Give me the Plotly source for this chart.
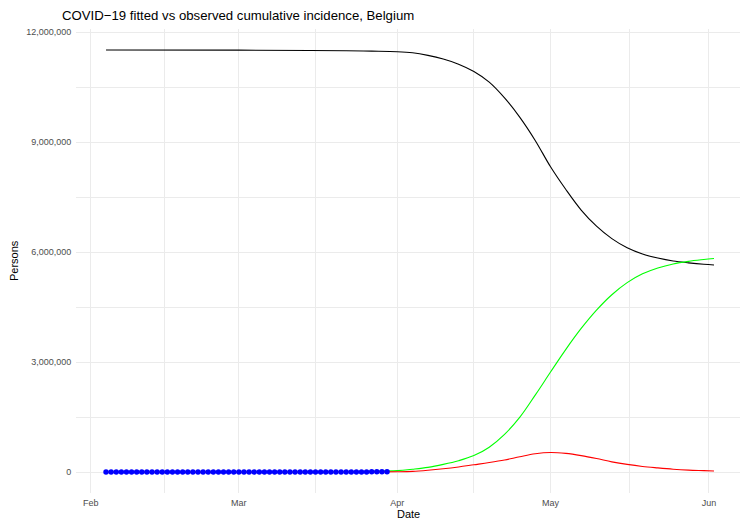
import plotly.graph_objects as go
import pandas as pd

# ---- data ----
fit_dates = ["2020-02-04", "2020-03-01", "2020-03-15", "2020-03-22", "2020-03-27",
             "2020-04-01", "2020-04-04", "2020-04-07", "2020-04-10", "2020-04-13",
             "2020-04-16", "2020-04-19", "2020-04-22", "2020-04-25", "2020-04-28",
             "2020-05-01", "2020-05-04", "2020-05-07", "2020-05-10", "2020-05-13",
             "2020-05-16", "2020-05-19", "2020-05-22", "2020-05-25", "2020-05-28",
             "2020-05-31", "2020-06-02"]
susceptible = [11515000, 11514000, 11505000, 11495000, 11485000,
               11470000, 11440000, 11370000, 11270000, 11130000,
               10930000, 10640000, 10210000, 9680000, 9050000,
               8330000, 7710000, 7150000, 6710000, 6370000,
               6120000, 5950000, 5840000, 5760000, 5710000,
               5670000, 5650000]
infected = [0, 200, 1000, 3000, 6000,
            10000, 20000, 50000, 90000, 140000,
            200000, 260000, 330000, 420000, 500000,
            535000, 510000, 450000, 370000, 280000,
            210000, 155000, 115000, 80000, 55000,
            40000, 30000]
recovered = [0, 200, 3000, 10000, 20000,
             40000, 80000, 130000, 210000, 310000,
             450000, 680000, 1030000, 1500000, 2100000,
             2730000, 3350000, 3920000, 4420000, 4840000,
             5170000, 5410000, 5570000, 5680000, 5750000,
             5800000, 5830000]

obs_start = "2020-02-04"
observed = [1] * 26 + [2, 8, 13, 23, 50, 109, 169, 200, 239, 267, 314, 314, 559, 689,
                       886, 1058, 1243, 1486, 1795, 2257, 2815, 3401, 3743, 4269, 4937,
                       6235, 7284, 9134, 10836, 11899]

x_tick_vals = ["2020-02-01", "2020-03-01", "2020-04-01", "2020-05-01", "2020-06-01"]
x_tick_text = ["Feb", "Mar", "Apr", "May", "Jun"]
x_minor_vals = ["2020-02-15 12:00", "2020-03-16", "2020-04-16", "2020-05-16 12:00"]
y_tick_vals = [0, 3000000, 6000000, 9000000, 12000000]
y_minor_vals = [1500000, 4500000, 7500000, 10500000]

obs_dates = pd.date_range(obs_start, periods=len(observed), freq="D")

FONT = "Liberation Sans, Arial, sans-serif"
GRID = "#ebebeb"

fig = go.Figure()
fig.add_trace(go.Scatter(x=fit_dates, y=susceptible, mode="lines",
                         line=dict(color="black", width=1.1, shape="spline", smoothing=1),
                         showlegend=False, name="Susceptible"))
fig.add_trace(go.Scatter(x=fit_dates, y=recovered, mode="lines",
                         line=dict(color="#00ff00", width=1.1, shape="spline", smoothing=1),
                         showlegend=False, name="Recovered"))
fig.add_trace(go.Scatter(x=fit_dates, y=infected, mode="lines",
                         line=dict(color="#ff0000", width=1.1, shape="spline", smoothing=1),
                         showlegend=False, name="Infected"))
fig.add_trace(go.Scatter(x=obs_dates, y=observed, mode="markers",
                         marker=dict(color="#0000ff", size=5.5, line=dict(width=0)),
                         showlegend=False, name="Observed"))

fig.update_layout(
    width=740, height=520,
    margin=dict(l=76, r=0, t=29, b=27),
    plot_bgcolor="white", paper_bgcolor="white",
    font=dict(family=FONT, size=9, color="#4d4d4d"),
    title=dict(text="COVID\u221219 fitted vs observed cumulative incidence, Belgium",
               xref="container", yref="container", x=62 / 740, xanchor="left",
               y=1 - 15 / 520, yanchor="middle",
               font=dict(family=FONT, size=13.2, color="black")),
    xaxis=dict(range=["2020-01-29 03:00", "2020-06-07 02:00"],
               tickmode="array", tickvals=x_tick_vals, ticktext=x_tick_text,
               showgrid=True, gridcolor=GRID, gridwidth=1,
               minor=dict(tickmode="array", tickvals=x_minor_vals, showgrid=True,
                          gridcolor=GRID, gridwidth=0.7),
               ticks="outside", ticklen=1, tickcolor="rgba(0,0,0,0)",
               tickfont=dict(size=9, color="#4d4d4d"),
               zeroline=False, showline=False, automargin=False),
    yaxis=dict(range=[-570000, 12090000],
               tickmode="array", tickvals=y_tick_vals, tickformat=",d",
               showgrid=True, gridcolor=GRID, gridwidth=1,
               minor=dict(tickmode="array", tickvals=y_minor_vals, showgrid=True,
                          gridcolor=GRID, gridwidth=0.7),
               ticks="outside", ticklen=2, tickcolor="rgba(0,0,0,0)",
               tickfont=dict(size=9, color="#4d4d4d"),
               zeroline=False, showline=False, automargin=False),
    annotations=[
        dict(text="Date", xref="paper", yref="paper", x=0.5, y=(493 - 514) / 464,
             xanchor="center", yanchor="middle", showarrow=False,
             font=dict(family=FONT, size=11, color="black")),
        dict(text="Persons", xref="paper", yref="paper", x=(14 - 76) / 664, y=0.5,
             xanchor="center", yanchor="middle", textangle=-90, showarrow=False,
             font=dict(family=FONT, size=11, color="black")),
    ],
)

fig.write_html("out.html", config={"displayModeBar": False},
               post_script="document.body.style.margin='0';document.body.style.padding='0';")
